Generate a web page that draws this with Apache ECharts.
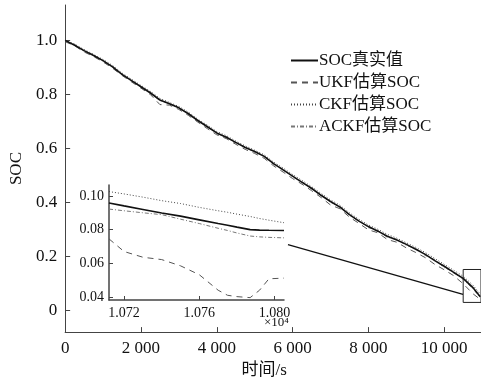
<!DOCTYPE html>
<html>
<head>
<meta charset="utf-8">
<script src="https://cdn.jsdelivr.net/npm/echarts@6/dist/echarts.min.js"></script>
<style>
  html, body { margin: 0; padding: 0; background: #fff; }
  #chart { width: 481px; height: 384px; }
</style>
</head>
<body>
<div id="chart"></div>
<script>
// main plot: time (s) and SOC of each method
const times = [0, 250, 500, 750, 1000, 1250, 1500, 1750, 2000, 2250, 2500, 2750, 3000, 3250, 3500, 3750,
  4000, 4250, 4500, 4750, 5000, 5250, 5500, 5750, 6000, 6250, 6500, 6750, 7000, 7250, 7500, 7750,
  8000, 8250, 8500, 8750, 9000, 9250, 9500, 9750, 10000, 10250, 10500, 10750, 10950]
const socTrue = [1.000, 0.982, 0.962, 0.944, 0.925, 0.902, 0.874, 0.851, 0.828, 0.805, 0.779, 0.765, 0.750, 0.728, 0.703, 0.680,
  0.657, 0.641, 0.622, 0.603, 0.588, 0.570, 0.543, 0.520, 0.497, 0.474, 0.452, 0.426, 0.403, 0.382, 0.354, 0.330,
  0.310, 0.293, 0.274, 0.260, 0.244, 0.226, 0.207, 0.184, 0.163, 0.140, 0.118, 0.085, 0.050]
const socUkf = [0.995, 0.980, 0.957, 0.940, 0.920, 0.897, 0.870, 0.846, 0.823, 0.799, 0.762, 0.760, 0.744, 0.722, 0.697, 0.673,
  0.650, 0.636, 0.615, 0.596, 0.581, 0.563, 0.535, 0.512, 0.488, 0.467, 0.443, 0.418, 0.390, 0.376, 0.345, 0.322,
  0.298, 0.287, 0.262, 0.252, 0.231, 0.214, 0.195, 0.170, 0.150, 0.128, 0.098, 0.062, 0.040]
const socCkf = [1.000, 0.986, 0.966, 0.948, 0.929, 0.907, 0.879, 0.856, 0.833, 0.811, 0.785, 0.770, 0.755, 0.734, 0.708, 0.686,
  0.662, 0.647, 0.627, 0.609, 0.593, 0.576, 0.549, 0.527, 0.503, 0.481, 0.458, 0.433, 0.409, 0.389, 0.361, 0.337,
  0.316, 0.300, 0.281, 0.267, 0.250, 0.233, 0.214, 0.192, 0.170, 0.148, 0.126, 0.094, 0.060]
const socAckf = [1.000, 0.985, 0.960, 0.946, 0.922, 0.905, 0.872, 0.853, 0.826, 0.808, 0.776, 0.768, 0.747, 0.731, 0.700, 0.683,
  0.654, 0.644, 0.619, 0.606, 0.585, 0.573, 0.540, 0.523, 0.494, 0.477, 0.449, 0.429, 0.400, 0.385, 0.351, 0.333,
  0.306, 0.296, 0.270, 0.263, 0.240, 0.229, 0.203, 0.187, 0.158, 0.143, 0.113, 0.082, 0.046]

// zoomed inset near the end of discharge
const insetTimes = [10712, 10720, 10730, 10740, 10750, 10760, 10770, 10775, 10780, 10787, 10792, 10797, 10805]
const insetTrue = [0.0958, 0.0941, 0.0920, 0.0899, 0.0880, 0.0858, 0.0836, 0.0826, 0.0815, 0.0800, 0.0797, 0.0796, 0.0795]
const insetUkf = [0.0745, 0.0670, 0.0636, 0.0622, 0.0585, 0.0532, 0.0440, 0.0410, 0.0402, 0.0396, 0.0440, 0.0508, 0.0512]
const insetCkf = [0.1026, 0.1012, 0.0993, 0.0972, 0.0955, 0.0932, 0.0912, 0.0903, 0.0892, 0.0878, 0.0866, 0.0856, 0.0841]
const insetAckf = [0.0922, 0.0912, 0.0900, 0.0889, 0.0862, 0.0836, 0.0808, 0.0795, 0.0780, 0.0762, 0.0757, 0.0754, 0.0751]

const names = ['SOC真实值', 'UKF估算SOC', 'CKF估算SOC', 'ACKF估算SOC']
const xTicks = [0, 2000, 4000, 6000, 8000, 10000]
const yTicks = [0, 0.2, 0.4, 0.6, 0.8, 1.0]
const insetXTicks = [10720, 10760, 10800]
const insetYTicks = [0.04, 0.06, 0.08, 0.10]

const font = '"Liberation Serif", "Noto Sans CJK SC", serif'
const axisColor = '#444'

const styles = [
  { color: '#111', width: 1.6, type: 'solid', z: 4 },
  { color: '#555', width: 1, type: [6, 5], z: 2 },
  { color: '#444', width: 1, type: [1, 2], z: 2 },
  { color: '#777', width: 1, type: [4, 2, 1, 2], z: 3 }
]

const zip = (xs, ys) => xs.map((x, i) => [x, ys[i]])
const mainData = [socTrue, socUkf, socCkf, socAckf]
const insetData = [insetTrue, insetUkf, insetCkf, insetAckf]

const lineSeries = (i, data, idx) => ({
  name: names[i],
  type: 'line',
  xAxisIndex: idx,
  yAxisIndex: idx,
  data: zip(idx === 0 ? times : insetTimes, data),
  symbol: 'none',
  showSymbol: false,
  silent: true,
  z: styles[i].z,
  lineStyle: { color: styles[i].color, width: styles[i].width, type: styles[i].type },
  itemStyle: { color: styles[i].color }
})

const series = []
mainData.forEach((d, i) => series.push(lineSeries(i, d, 0)))
insetData.forEach((d, i) => series.push(lineSeries(i, d, 1)))

// zoom box and leader line on the main axes
series[0].markArea = {
  silent: true,
  itemStyle: { color: 'rgba(0,0,0,0)', borderColor: '#222', borderWidth: 1 },
  data: [[{ coord: [10500, 0.151] }, { coord: [10970, 0.029] }]]
}
series[0].markLine = {
  silent: true,
  symbol: 'none',
  label: { show: false },
  lineStyle: { color: '#111', width: 1.2, type: 'solid' },
  data: [[{ coord: [5878, 0.243] }, { coord: [10496, 0.059] }]]
}

const chart = echarts.init(document.getElementById('chart'), null, { renderer: 'canvas' })
chart.setOption({
  animation: false,
  textStyle: { fontFamily: font, color: '#111' },
  grid: [
    { left: 63, top: 5, right: 0, bottom: 50 },
    { left: 109, top: 185, width: 175, height: 115 }
  ],
  legend: {
    orient: 'vertical',
    left: 285,
    top: 47,
    itemWidth: 27,
    itemHeight: 14,
    itemGap: 5,
    selectedMode: false,
    itemStyle: { opacity: 0 },
    textStyle: { fontFamily: font, fontSize: 17, color: '#111', padding: [0, 0, 0, -4] },
    data: names
  },
  xAxis: [
    {
      type: 'value', gridIndex: 0, min: 0, max: 10970,
      name: '时间/s', nameLocation: 'middle', nameGap: 21,
      nameTextStyle: { fontFamily: font, fontSize: 17, color: '#111', padding: [0, 18, 0, 0] },
      axisLine: { onZero: false, lineStyle: { color: axisColor } },
      axisTick: { inside: true, length: 5, lineStyle: { color: axisColor }, customValues: xTicks },
      axisLabel: {
        fontFamily: font, fontSize: 17, color: '#111', margin: 8, customValues: xTicks,
        formatter: v => v >= 1000 ? String(Math.floor(v / 1000)) + ' ' + String(v % 1000).padStart(3, '0') : String(v)
      },
      splitLine: { show: false }
    },
    {
      type: 'value', gridIndex: 1, min: 10712, max: 10805,
      axisLine: { onZero: false, lineStyle: { color: axisColor, width: 1.5 } },
      axisTick: { inside: true, length: 4, lineStyle: { color: axisColor }, customValues: insetXTicks },
      axisLabel: {
        fontFamily: font, fontSize: 14, color: '#111', margin: 6, customValues: insetXTicks,
        formatter: v => (v / 1e4).toFixed(3)
      },
      splitLine: { show: false }
    }
  ],
  yAxis: [
    {
      type: 'value', gridIndex: 0, min: -0.081, max: 1.131,
      name: 'SOC', nameLocation: 'middle', nameGap: 28, nameRotate: 90,
      nameTextStyle: { fontFamily: font, fontSize: 17, color: '#111' },
      axisLine: { show: true, onZero: false, lineStyle: { color: axisColor } },
      axisTick: { show: true, inside: true, length: 5, lineStyle: { color: axisColor }, customValues: yTicks },
      axisLabel: {
        fontFamily: font, fontSize: 17, color: '#111', margin: 8, customValues: yTicks,
        formatter: v => v === 0 ? '0' : v.toFixed(1)
      },
      splitLine: { show: false }
    },
    {
      type: 'value', gridIndex: 1, min: 0.0382, max: 0.1065,
      axisLine: { show: true, onZero: false, lineStyle: { color: axisColor, width: 1.5 } },
      axisTick: { show: true, inside: true, length: 4, lineStyle: { color: axisColor }, customValues: insetYTicks },
      axisLabel: {
        fontFamily: font, fontSize: 14, color: '#111', margin: 5, customValues: insetYTicks,
        formatter: v => v.toFixed(2)
      },
      splitLine: { show: false }
    }
  ],
  graphic: [
    {
      type: 'text', left: 264, top: 316,
      style: { text: '×10⁴', fontFamily: font, fontSize: 13, fill: '#111' }
    }
  ],
  series
})
</script>
</body>
</html>
